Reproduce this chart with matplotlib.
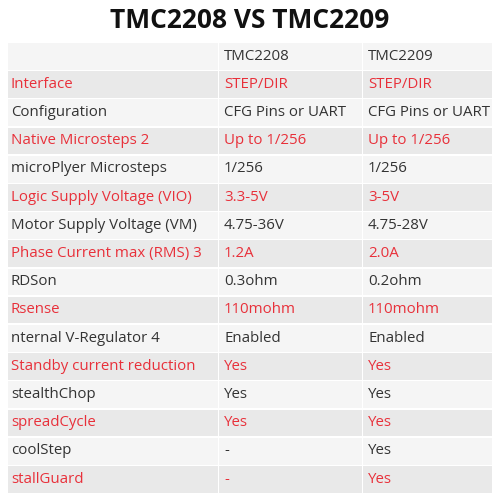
import matplotlib
matplotlib.use("Agg")
import matplotlib.pyplot as plt
from matplotlib.patches import Rectangle

header = ["", "TMC2208", "TMC2209"]
features = ["Interface","Configuration","Native Microsteps 2","microPlyer Microsteps",
 "Logic Supply Voltage (VIO)","Motor Supply Voltage (VM)","Phase Current max (RMS) 3",
 "RDSon","Rsense","nternal V-Regulator 4","Standby current reduction","stealthChop",
 "spreadCycle","coolStep","stallGuard"]
tmc2208 = ["STEP/DIR","CFG Pins or UART","Up to 1/256","1/256","3.3-5V","4.75-36V","1.2A",
 "0.3ohm","110mohm","Enabled","Yes","Yes","Yes","-","-"]
tmc2209 = ["STEP/DIR","CFG Pins or UART","Up to 1/256","1/256","3-5V","4.75-28V","2.0A",
 "0.2ohm","110mohm","Enabled","Yes","Yes","Yes","Yes","Yes"]

plt.rcParams['font.family'] = ['Open Sans', 'DejaVu Sans']
fig = plt.figure(figsize=(5,5), dpi=100)
ax = fig.add_axes([0,0,1,1])
ax.set_xlim(0,500); ax.set_ylim(500,0); ax.axis('off')

ax.text(250, 21, "TMC2208 VS TMC2209", ha='center', va='center', fontsize=19, fontweight='bold', color='#111111')

top = 43; rh = 28.2
cols = [(8,218),(219,362),(363,492)]
rows = [header] + [[f,a,b] for f,a,b in zip(features,tmc2208,tmc2209)]
red = '#e8303a'
for i,r in enumerate(rows):
    y = top + i*rh
    fc = '#f5f5f5' if i % 2 == 0 else '#e9e9e9'
    for (x0,x1) in cols:
        ax.add_patch(Rectangle((x0,y),x1-x0,rh-1.5,facecolor=fc,edgecolor='none'))
    color = red if i % 2 == 1 else '#333333'
    for j,(x0,x1) in enumerate(cols):
        c = '#333333' if i == 0 else color
        ax.text(x0+3 if j==0 else x0+5, y+rh/2-1, r[j], ha='left', va='center', fontsize=10.8, color=c)

fig.savefig("out.png", dpi=100, facecolor='white')
